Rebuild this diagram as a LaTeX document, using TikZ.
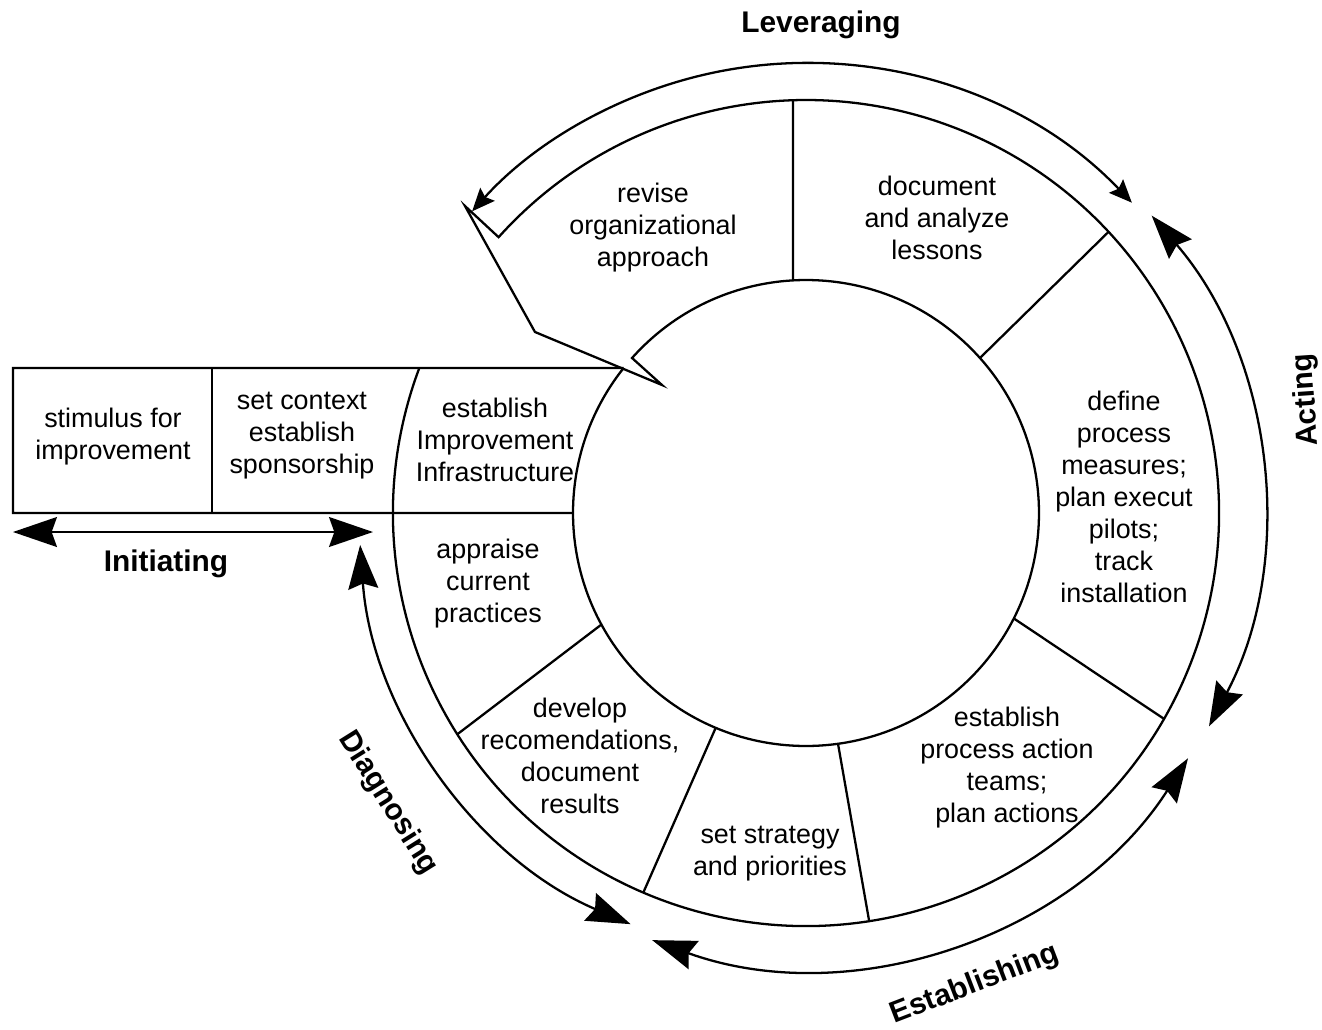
\documentclass[tikz,border=0pt]{standalone}
\usepackage{fontspec}
\setmainfont{Liberation Sans}
\usetikzlibrary{arrows.meta,calc}
\tikzset{
    % Lines
    ring line/.style={line width=1.3pt, line join=miter},
    %
    % Arrows
    big tip/.tip={Stealth[length=25pt,width=17pt,inset=3pt]},
    small tip/.tip={Stealth[length=13pt,width=11pt,inset=2pt]},
    phase arr/.style={ring line,<->,>={big tip}},
    small phase arr/.style={ring line,<->,>={small tip}},
    %
    % Texts
    step text/.style={align=center,inner sep=0pt,font=\fontsize{15.3}{18.2}\selectfont},
    phase label/.style={inner sep=0pt,font=\fontsize{17}{20}\selectfont\bfseries}
}

\begin{document}
\begin{tikzpicture}[x=0.02cm,y=0.02cm]
        \useasboundingbox (-806,-516) rectangle (516,513);
        
        % ring with the big arrow
        \draw[ring line] (159.44:413) arc[start angle=159.44, end angle=498.1, radius=413]
        -- (-341,307) -- (-271,181) -- (-144,128) -- (138.3:233)
        arc[start angle=138.3, end angle=-218.5, radius=233];
        
        % initiating boxes
        \draw[ring line] (141.5:233) -- (-793,145) -- (-793,0) -- (180:233);
        \draw[ring line] (-594,145) -- (-594,0);
        
        % ring segments
        \draw[ring line] (91.8:413) -- (93.2:233)
        (42.9:413) -- (41.7:233)
        (-29.9:413) -- (-26.9:233)
        (-81.2:413) -- (-82.1:233)
        (-113.2:413) -- (-112.8:233)
        (212.4:413) -- (208.6:233);
        
        \node[step text] (stimulus) at (-693,76) {stimulus for\\improvement};
        \node[step text] (context) at (-504,77) {set context\\establish\\sponsorship};
        \node[step text] (infra) at (-311,73) {establish\\Improvement\\Infrastructure};
        \node[step text] (appraise) at (-318,-71) {appraise\\current\\practices};
        \node[step text] (develop) at (-226,-243) {develop\\recomendations,\\document\\results};
        \node[step text] (strategy) at (-36,-341) {set strategy\\and priorities};
        \node[step text] (teams) at (201,-255) {establish\\process action\\teams;\\plan actions};
        \node[step text] (measures) at (318,16) {define\\process\\measures;\\plan execut\\pilots;\\track\\installation};
        \node[step text] (lessons) at (131,295) {document\\and analyze\\lessons};
        \node[step text] (revise) at (-153,285) {revise\\organizational\\approach};
        
        % phase arrows
        \coordinate (init west) at (-793,-19);
        \coordinate (init east) at (-433,-19);
        \coordinate (lev start) at (43.6:450);
        \coordinate (act start) at (40.7:456);
        \coordinate (est start) at (-32.7:454);
        \coordinate (diag start) at (184.1:447);
        \draw[phase arr] (init west) -- (init east);
        \draw[small phase arr] (lev start) arc[start angle=43.6, end angle=137.9, radius=450];
        \draw[phase arr] (act start) arc[start angle=40.7, end angle=-27.9, radius=456];
        \draw[phase arr] (est start) arc[start angle=-32.7, end angle=-109.8, radius=454];
        \draw[phase arr] (diag start) arc[start angle=184.1, end angle=246.9, radius=447];
        
        \node[phase label] (initiating) at (-640,-51) {Initiating};
        \node[phase label] (leveraging) at (15,488) {Leveraging};
        \node[phase label,rotate=94] (acting) at (501,113) {Acting};
        \node[phase label,rotate=21] (establishing) at (169,-472) {Establishing};
        \node[phase label,rotate=-58] (diagnosing) at (-418,-290) {Diagnosing};
    \end{tikzpicture}
\end{document}
